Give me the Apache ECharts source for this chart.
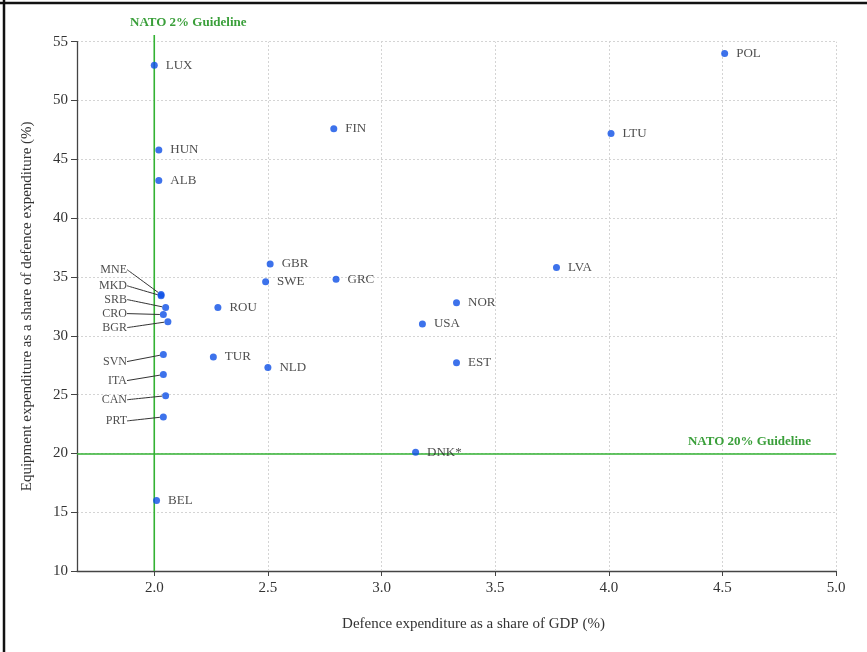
<!DOCTYPE html>
<html>
<head>
<meta charset="utf-8">
<script src="https://cdn.jsdelivr.net/npm/echarts@6/dist/echarts.min.js"></script>
<style>
html,body{margin:0;padding:0;background:#fff;}
#chart{width:867px;height:652px;}
</style>
</head>
<body>
<div id="chart"></div>
<script>
// ---- data ----
const countries = ['LUX','POL','FIN','LTU','HUN','ALB','GBR','SWE','GRC','LVA','NOR','USA','ROU','TUR','NLD','EST','MNE','MKD','SRB','CRO','BGR','SVN','ITA','CAN','PRT','DNK*','BEL'];
const gdpShare   = [2.00,4.51,2.79,4.01,2.02,2.02,2.51,2.49,2.80,3.77,3.33,3.18,2.28,2.26,2.50,3.33,2.03,2.03,2.05,2.04,2.06,2.04,2.04,2.05,2.04,3.15,2.01];
const equipShare = [53.0,54.0,47.6,47.2,45.8,43.2,36.1,34.6,34.8,35.8,32.8,31.0,32.4,28.2,27.3,27.7,33.5,33.4,32.4,31.8,31.2,28.4,26.7,24.9,23.1,20.1,16.0];
const xTicks = [2.0,2.5,3.0,3.5,4.0,4.5,5.0];
const gdpGuideline = 2.0;
const equipGuideline = 20;
const gdpGuideLabel = 'NATO 2% Guideline';
const equipGuideLabel = 'NATO 20% Guideline';
const xName = 'Defence expenditure as a share of GDP (%)';
const yName = 'Equipment expenditure as a share of defence expenditure (%)';

// ---- label placement (styling only) ----
const labelOffsets = { 'GBR':[0,-10], 'GRC':[0,-6], 'NOR':[0,-2], 'DNK*':[-4,0] };
const leftLabelDy = { MNE:-25, MKD:-10, SRB:-8, CRO:-1, BGR:6, SVN:7, ITA:6, CAN:4, PRT:4 };

const serif = '"Liberation Serif", "DejaVu Serif", serif';
const green = '#33b233';
const greenText = '#3a9f3a';

const points = countries.map((c, i) => {
  const item = { name: c, value: [gdpShare[i], equipShare[i]] };
  if (labelOffsets[c]) item.label = { offset: labelOffsets[c] };
  if (leftLabelDy[c] !== undefined) item.labelLine = { show: true };
  return item;
});

const chart = echarts.init(document.getElementById('chart'), null, { renderer: 'canvas' });
chart.setOption({
  animation: false,
  backgroundColor: '#fff',
  graphic: [
    { type: 'line', shape: { x1: 0, y1: 3, x2: 867, y2: 3 }, style: { stroke: '#111', lineWidth: 2.5 }, z: 100 },
    { type: 'line', shape: { x1: 4, y1: 0, x2: 4, y2: 652 }, style: { stroke: '#111', lineWidth: 2.5 }, z: 100 }
  ],
  grid: { left: 77, right: 31, top: 41.7, bottom: 81, containLabel: false },
  xAxis: {
    type: 'value', min: 1.66, max: 5.0,
    name: xName, nameLocation: 'middle', nameGap: 46,
    nameTextStyle: { fontFamily: serif, fontSize: 15, color: '#333', padding: [0, 0, 0, 34] },
    axisLine: { show: true, lineStyle: { color: '#444', width: 1.3 } },
    axisTick: { show: true, customValues: xTicks, length: 5, lineStyle: { color: '#444' } },
    axisLabel: { customValues: xTicks, formatter: v => v.toFixed(1), fontFamily: serif, fontSize: 15, color: '#333', margin: 10 },
    splitLine: { show: false }
  },
  yAxis: {
    type: 'value', min: 10, max: 55, interval: 5,
    name: yName, nameLocation: 'middle', nameGap: 42,
    nameTextStyle: { fontFamily: serif, fontSize: 15, color: '#333' },
    axisLine: { show: true, lineStyle: { color: '#444', width: 1.3 } },
    axisTick: { show: true, length: 6, lineStyle: { color: '#444' } },
    axisLabel: { fontFamily: serif, fontSize: 15, color: '#333', margin: 9 },
    splitLine: { show: true, lineStyle: { color: '#d4d4d4', type: [2, 2], width: 1 } }
  },
  series: [
    {
      type: 'line', data: [], clip: false, silent: true, z: 1,
      markLine: {
        silent: true, symbol: 'none', animation: false,
        label: { show: false },
        lineStyle: { color: '#d4d4d4', type: [2, 2], width: 1 },
        data: xTicks.filter(t => t !== gdpGuideline).map(t => ({ xAxis: t }))
      }
    },
    {
      type: 'line', data: [], clip: false, silent: true, z: 3,
      markLine: {
        silent: true, symbol: 'none', animation: false,
        lineStyle: { color: green, type: 'solid', width: 1.6 },
        data: [
          [
            { coord: [1.66, equipGuideline] },
            { coord: [5.0, equipGuideline],
              label: { show: true, position: 'insideEndTop', formatter: equipGuideLabel, color: greenText, fontFamily: serif, fontWeight: 'bold', fontSize: 13, distance: 5, padding: [0, 20, 0, 0] } }
          ]
        ]
      }
    },
    {
      // vertical 2% guideline, extending a little above the plot top like the reference
      type: 'custom', clip: false, silent: true, z: 3,
      data: [[gdpGuideline, 10, 55.57]],
      renderItem: function (params, api) {
        const p0 = api.coord([api.value(0), api.value(1)]);
        const p1 = api.coord([api.value(0), api.value(2)]);
        return {
          type: 'group',
          children: [
            { type: 'line', shape: { x1: p0[0], y1: p0[1], x2: p1[0], y2: p1[1] },
              style: { stroke: green, lineWidth: 1.6 } },
            { type: 'text', x: p1[0] + 34, y: p1[1] - 12,
              style: { text: gdpGuideLabel, fill: greenText, font: 'bold 13px ' + serif, align: 'center', verticalAlign: 'middle' } }
          ]
        };
      }
    },
    {
      type: 'scatter', z: 5,
      symbolSize: 7,
      itemStyle: { color: '#0d4fe6' },
      data: points,
      label: {
        show: true, position: 'right', distance: 8,
        formatter: '{b}', fontFamily: serif, fontSize: 13, color: '#222'
      },
      labelLine: { show: false, smooth: 0.25, lineStyle: { color: '#333', width: 1 } },
      labelLayout: function (p) {
        const name = countries[p.dataIndex];
        if (leftLabelDy[name] !== undefined) {
          const cx = p.rect.x + p.rect.width / 2;
          const cy = p.rect.y + p.rect.height / 2;
          const ly = cy + leftLabelDy[name];
          return {
            x: 127, y: ly, align: 'right', verticalAlign: 'middle', fontSize: 12,
            labelLinePoints: [[130, ly], [140, ly], [cx - 3, cy]]
          };
        }
        return {};
      }
    }
  ]
});
</script>
</body>
</html>
